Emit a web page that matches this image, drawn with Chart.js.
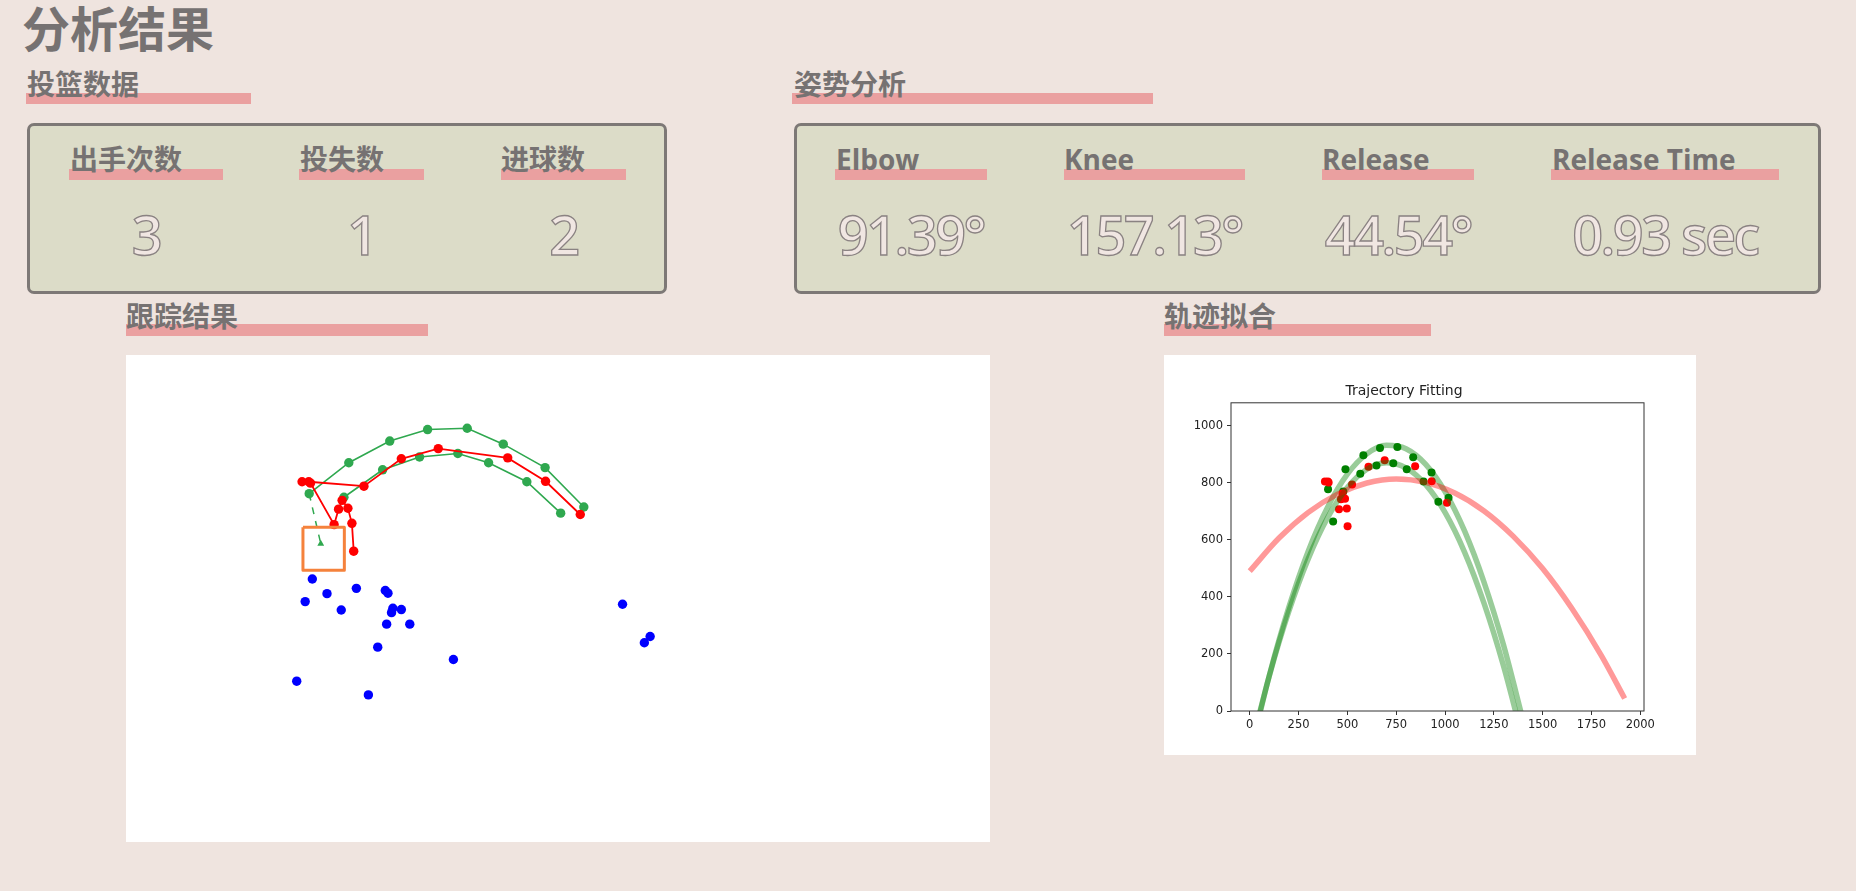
<!DOCTYPE html>
<html>
<head>
<meta charset="utf-8">
<script src="https://cdn.jsdelivr.net/npm/chart.js@4.4.0/dist/chart.umd.min.js"></script>
<style>
  body { margin: 0; width: 1856px; height: 891px; background: #efe4df; position: relative; overflow: hidden; }
  .t { position: absolute; font-family: "Noto Sans CJK SC", sans-serif; font-weight: 700; color: #767272; line-height: 1; white-space: nowrap; z-index: 2; }
  .lat { position: absolute; font-family: "Open Sans", sans-serif; font-weight: 700; color: #767272; line-height: 1; white-space: nowrap; font-size: 28px; z-index: 2; }
  .bar { position: absolute; background: #eaa0a0; height: 11px; z-index: 1; }
  .box { position: absolute; box-sizing: border-box; border: 3px solid #7d7876; border-radius: 7px; background: #dcdcc8; }
  .val { position: absolute; font-family: "Open Sans", sans-serif; font-weight: 600; font-size: 54px; line-height: 1; letter-spacing: -2.5px;
         color: #f0e6e2; -webkit-text-stroke: 1.3px #8a8282; text-align: center; white-space: nowrap; z-index: 2; }
  .pic { position: absolute; background: #fff; }
</style>
</head>
<body>

<div class="t" style="left:22px;top:2px;font-size:48px;">分析结果</div>

<div class="bar" style="left:26px;top:93px;width:225px;"></div>
<div class="t" style="left:27px;top:69px;font-size:28px;">投篮数据</div>
<div class="bar" style="left:792px;top:93px;width:361px;"></div>
<div class="t" style="left:794px;top:69px;font-size:28px;">姿势分析</div>

<div class="box" style="left:27px;top:123px;width:640px;height:171px;"></div>
<div class="box" style="left:794px;top:123px;width:1027px;height:171px;"></div>

<div class="bar" style="left:69px;top:169px;width:154px;"></div>
<div class="t" style="left:70px;top:144px;font-size:28px;">出手次数</div>
<div class="val" style="left:69px;top:207px;width:154px;">3</div>
<div class="bar" style="left:299px;top:169px;width:125px;"></div>
<div class="t" style="left:300px;top:144px;font-size:28px;">投失数</div>
<div class="val" style="left:299px;top:207px;width:125px;">1</div>
<div class="bar" style="left:501px;top:169px;width:125px;"></div>
<div class="t" style="left:501px;top:144px;font-size:28px;">进球数</div>
<div class="val" style="left:501px;top:207px;width:125px;">2</div>

<div class="bar" style="left:835px;top:169px;width:152px;"></div>
<div class="lat" style="left:836px;top:145px;">Elbow</div>
<div class="val" style="left:835px;top:207px;width:152px;">91.39°</div>
<div class="bar" style="left:1064px;top:169px;width:181px;"></div>
<div class="lat" style="left:1064px;top:145px;">Knee</div>
<div class="val" style="left:1064px;top:207px;width:181px;">157.13°</div>
<div class="bar" style="left:1322px;top:169px;width:152px;"></div>
<div class="lat" style="left:1322px;top:145px;">Release</div>
<div class="val" style="left:1322px;top:207px;width:152px;">44.54°</div>
<div class="bar" style="left:1551px;top:169px;width:228px;"></div>
<div class="lat" style="left:1552px;top:145px;">Release Time</div>
<div class="val" style="left:1551px;top:207px;width:228px;">0.93 sec</div>

<div class="bar" style="left:126px;top:324px;width:302px;height:12px;"></div>
<div class="t" style="left:126px;top:301px;font-size:28px;">跟踪结果</div>
<div class="bar" style="left:1164px;top:324px;width:267px;height:12px;"></div>
<div class="t" style="left:1164px;top:301px;font-size:28px;">轨迹拟合</div>

<div class="pic" style="left:126px;top:355px;width:864px;height:487px;"><canvas id="trackChart"></canvas></div>
<div class="pic" style="left:1164px;top:355px;width:532px;height:400px;"><canvas id="fitChart"></canvas></div>

<script>
// ball centres in video frame pixels (1920 x 1080, y pointing down)
const frameW = 1920;
const frameH = 1080;

const greenTopX = [401, 490, 582, 667, 756, 837, 931, 1018];
const greenTopY = [303, 233, 184, 158, 155, 191, 244, 333];
const greenLowX = [479, 566, 649, 735, 804, 890, 966];
const greenLowY = [311, 249, 220, 212, 233, 276, 347];
const releaseX = [427];
const releaseY = [416];
const redX = [501, 497, 488, 475, 467, 457, 404, 385, 400, 524, 608, 691, 847, 932, 1010];
const redY = [433, 370, 336, 318, 338, 373, 279, 276, 276, 286, 224, 201, 222, 275, 350];
const blueX = [408, 441, 507, 572, 578, 589, 586, 608, 392, 473, 575, 627, 555, 725, 373, 534, 1105, 1167, 1154];
const blueY = [496, 529, 517, 522, 528, 562, 572, 565, 547, 566, 598, 598, 650, 678, 727, 758, 553, 626, 640];
const rimX = [387, 480, 480, 387, 387];
const rimY = [379, 379, 476, 476, 379];

// fitted curves (height above frame bottom)
const fitX = [0, 100, 200, 300, 400, 500, 600, 700, 800, 900, 1000, 1100, 1200, 1300, 1400];
const fitTopH = [-157, 124, 363, 561, 716, 830, 901, 931, 919, 865, 769, 631, 451, 230, -34];
const fitLowH = [-144, 123, 349, 534, 679, 783, 847, 870, 852, 794, 696, 557, 377, 157, -104];
const redFitX = [0, 150, 300, 450, 600, 750, 900, 1050, 1200, 1350, 1500, 1650, 1800, 1920];
const redFitH = [490, 606, 696, 760, 799, 813, 801, 764, 701, 612, 499, 359, 195, 44];

const xTicks = [0, 250, 500, 750, 1000, 1250, 1500, 1750, 2000];
const yTicks = [0, 200, 400, 600, 800, 1000];

function pts(xs, ys) {
  return xs.map(function(x, i) { return {x: x, y: ys[i]}; });
}
function ptsUp(xs, ys) {
  return xs.map(function(x, i) { return {x: x, y: frameH - ys[i]}; });
}

document.addEventListener('DOMContentLoaded', function() {
  Chart.defaults.font.family = "'DejaVu Sans', sans-serif";
  Chart.defaults.animation = false;

  const green = '#2fa84f';

  new Chart(document.getElementById('trackChart'), {
    type: 'scatter',
    data: {
      datasets: [
        {
          data: pts(rimX, rimY), showLine: true, borderColor: '#f5823c', borderWidth: 3,
          borderJoinStyle: 'round', pointRadius: 0, order: 0
        },
        {
          data: pts(redX, redY), showLine: true, borderColor: '#ff0000', backgroundColor: '#ff0000',
          borderWidth: 1.8, pointRadius: 4.7, pointBorderWidth: 0, order: 1
        },
        {
          data: pts(greenTopX, greenTopY), showLine: true, borderColor: green, backgroundColor: green,
          borderWidth: 1.6, pointRadius: 4.7, pointBorderWidth: 0, order: 2
        },
        {
          data: pts(greenLowX, greenLowY), showLine: true, borderColor: green, backgroundColor: green,
          borderWidth: 1.6, pointRadius: 4.7, pointBorderWidth: 0, order: 2
        },
        {
          data: [pts(greenTopX, greenTopY)[0], pts(releaseX, releaseY)[0]], showLine: true,
          borderColor: green, borderWidth: 1.5, borderDash: [7, 7], pointRadius: 0, order: 2
        },
        {
          data: pts(releaseX, releaseY), backgroundColor: green, borderColor: green,
          pointStyle: 'triangle', pointRadius: 4, pointBorderWidth: 0, order: 2
        },
        {
          data: pts(blueX, blueY), backgroundColor: '#0000ff', borderColor: '#0000ff',
          pointRadius: 4.7, pointBorderWidth: 0, order: 3
        }
      ]
    },
    options: {
      responsive: true,
      maintainAspectRatio: false,
      events: [],
      layout: { padding: 0 },
      plugins: { legend: { display: false }, tooltip: { enabled: false } },
      scales: {
        x: { type: 'linear', min: 0, max: frameW, display: false },
        y: { type: 'linear', min: 0, max: frameH, reverse: true, display: false }
      }
    }
  });

  const frameBox = {
    id: 'frameBox',
    afterDraw: function(chart) {
      const a = chart.chartArea;
      const c = chart.ctx;
      c.save();
      c.strokeStyle = '#333';
      c.lineWidth = 1;
      c.strokeRect(a.left, a.top, a.right - a.left, a.bottom - a.top);
      c.restore();
    }
  };

  const tickFont = { size: 11.5, family: "'DejaVu Sans', sans-serif" };
  const plain = function(v) { return String(v); };

  new Chart(document.getElementById('fitChart'), {
    type: 'scatter',
    data: {
      datasets: [
        {
          data: pts(redFitX, redFitH), showLine: true, borderColor: 'rgba(255,0,0,0.4)', borderWidth: 5.5,
          cubicInterpolationMode: 'monotone', pointRadius: 0, clip: 0, order: 0
        },
        {
          data: pts(fitX, fitTopH), showLine: true, borderColor: 'rgba(0,128,0,0.4)', borderWidth: 5.5,
          cubicInterpolationMode: 'monotone', pointRadius: 0, clip: 0, order: 1
        },
        {
          data: pts(fitX, fitLowH), showLine: true, borderColor: 'rgba(0,128,0,0.4)', borderWidth: 5.5,
          cubicInterpolationMode: 'monotone', pointRadius: 0, clip: 0, order: 1
        },
        {
          data: ptsUp(redX, redY), backgroundColor: '#ff0000', borderColor: '#ff0000',
          pointRadius: 4, pointBorderWidth: 0, order: 2
        },
        {
          data: ptsUp(greenTopX, greenTopY).concat(ptsUp(greenLowX, greenLowY), ptsUp(releaseX, releaseY)),
          backgroundColor: '#008000', borderColor: '#008000',
          pointRadius: 4, pointBorderWidth: 0, order: 3
        }
      ]
    },
    options: {
      responsive: true,
      maintainAspectRatio: false,
      events: [],
      layout: { padding: { left: 0, top: 0, right: 52, bottom: 0 } },
      plugins: {
        legend: { display: false },
        tooltip: { enabled: false },
        title: {
          display: true,
          text: 'Trajectory Fitting',
          color: '#222',
          font: { size: 14, weight: 'normal', family: "'DejaVu Sans', sans-serif" },
          padding: { top: 28, bottom: 3 }
        }
      },
      scales: {
        x: {
          type: 'linear', min: -96, max: 2019,
          afterBuildTicks: function(scale) { scale.ticks = xTicks.map(function(v) { return {value: v}; }); },
          afterFit: function(scale) { scale.height = 44; },
          grid: { drawOnChartArea: false, drawTicks: true, tickLength: 4, color: '#333' },
          border: { display: false },
          ticks: { color: '#222', font: tickFont, padding: 3, maxRotation: 0, autoSkip: false, callback: plain }
        },
        y: {
          type: 'linear', min: 0, max: 1080,
          afterBuildTicks: function(scale) { scale.ticks = yTicks.map(function(v) { return {value: v}; }); },
          afterFit: function(scale) { scale.width = 67; },
          grid: { drawOnChartArea: false, drawTicks: true, tickLength: 4, color: '#333' },
          border: { display: false },
          ticks: { color: '#222', font: tickFont, padding: 4, autoSkip: false, callback: plain }
        }
      }
    },
    plugins: [frameBox]
  });
});
</script>
</body>
</html>
